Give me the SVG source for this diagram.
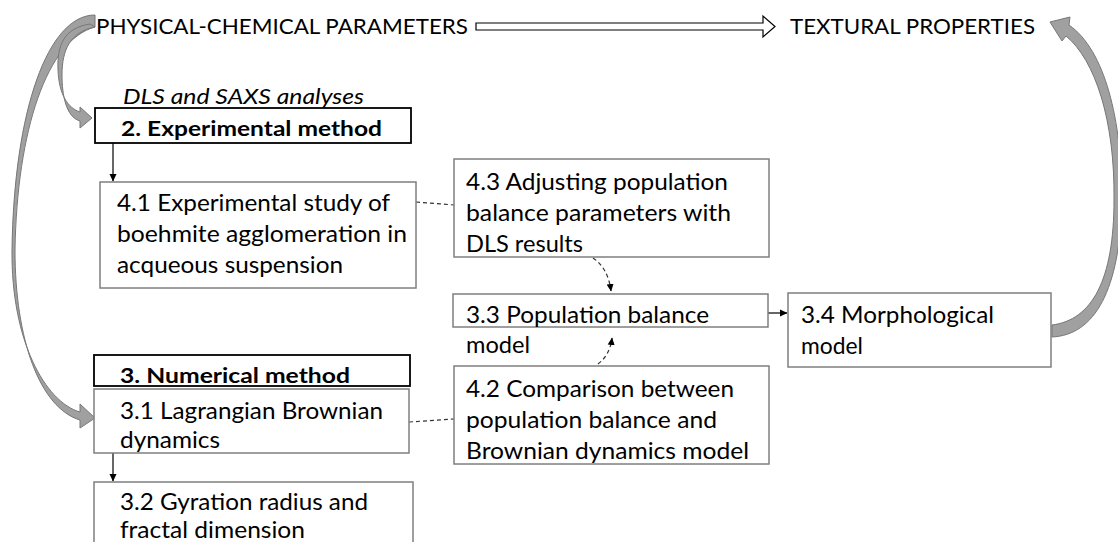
<svg xmlns="http://www.w3.org/2000/svg" width="1118" height="542" viewBox="0 0 1118 542">
<style>
text{font-family:Lato,"Noto Sans","Liberation Sans",sans-serif;fill:#000}
.t{font-size:23px}
.h{font-size:21px}
.b{font-size:21px;font-weight:bold}
.i{font-size:21px;font-style:italic}
.box{fill:#fff;stroke:#7f7f7f;stroke-width:1.5}
.bbox{fill:#fff;stroke:#000;stroke-width:1.8}
.curve{fill:#a0a0a0;stroke:#777;stroke-width:1}
.ln{fill:none;stroke:#000;stroke-width:1.2}
.dash{fill:none;stroke:#333;stroke-width:1.2;stroke-dasharray:4 3}
</style>
<defs>
<marker id="ah" markerWidth="8" markerHeight="8" refX="7" refY="4" orient="auto" markerUnits="userSpaceOnUse">
<path d="M0,0.5 L7.5,4 L0,7.5 Z" fill="#000"/>
</marker>
</defs>

<g id="curves">
<path class="curve" d="M95 15 C48 15 14 110 12 250 C11 340 45 402 80 412 L80 404 L95 418 L80 428 L80 420 C40 408 15 340 15 250 C17 130 47 40 95 27 Z"/>
<path class="curve" d="M90 24 C64 28 57 45 58 70 C59 95 68 108 80 112 L80 107 L92 118 L80 128 L80 121 C66 117 62 95 62 75 C62 50 70 32 95 27 Z"/>
<path class="curve" d="M1052 325 C1092 320 1114 280 1114 200 C1115 120 1095 60 1066 36 L1062 41 L1050 22 L1070 17 L1069 25 C1105 50 1122 120 1122 200 C1120 290 1095 335 1052 337 Z"/>
<path d="M476 23 L763 23 L763 16 L775 26.5 L763 37 L763 30 L476 30 Z" fill="#fff" stroke="#000" stroke-width="1.2"/>
</g>

<g id="title-left"><text class="h" x="96" y="34" textLength="372" lengthAdjust="spacingAndGlyphs">PHYSICAL-CHEMICAL PARAMETERS</text></g>
<g id="title-right"><text class="h" x="790" y="34" textLength="245" lengthAdjust="spacingAndGlyphs">TEXTURAL PROPERTIES</text></g>

<g id="connectors">
<line class="ln" x1="113" y1="143" x2="113" y2="181" marker-end="url(#ah)"/>
<line class="ln" x1="113" y1="453" x2="113" y2="481" marker-end="url(#ah)"/>
<line class="ln" x1="768" y1="313" x2="787" y2="313" marker-end="url(#ah)"/>
<path class="dash" d="M416 202 L454 205"/>
<path class="dash" d="M409 422 L454 419"/>
<path class="dash" d="M593 258 Q608 268 611 291" marker-end="url(#ah)"/>
<path class="dash" d="M598 364 Q610 355 612 338" marker-end="url(#ah)"/>
</g>

<g id="n-dls"><text class="i" x="123" y="104" textLength="241" lengthAdjust="spacingAndGlyphs">DLS and SAXS analyses</text></g>

<g id="n2">
<rect class="bbox" x="95" y="108" width="316" height="35"/>
<text class="b" x="121" y="136" textLength="261" lengthAdjust="spacingAndGlyphs">2. Experimental method</text>
</g>

<g id="n41">
<rect class="box" x="100" y="182" width="316" height="106"/>
<text class="t" x="117" y="211" textLength="273" lengthAdjust="spacingAndGlyphs">4.1 Experimental study of</text>
<text class="t" x="117" y="242" textLength="290" lengthAdjust="spacingAndGlyphs">boehmite agglomeration in</text>
<text class="t" x="117" y="273" textLength="226" lengthAdjust="spacingAndGlyphs">acqueous suspension</text>
</g>

<g id="n43">
<rect class="box" x="454" y="159" width="315" height="98"/>
<text class="t" x="466" y="190" textLength="262" lengthAdjust="spacingAndGlyphs">4.3 Adjusting population</text>
<text class="t" x="466" y="221" textLength="265" lengthAdjust="spacingAndGlyphs">balance parameters with</text>
<text class="t" x="466" y="252" textLength="117" lengthAdjust="spacingAndGlyphs">DLS results</text>
</g>

<g id="n33">
<rect class="box" x="453" y="294" width="315" height="33"/>
<text class="t" x="466" y="323" textLength="243" lengthAdjust="spacingAndGlyphs">3.3 Population balance</text>
<text class="t" x="466" y="353" textLength="64" lengthAdjust="spacingAndGlyphs">model</text>
</g>

<g id="n34">
<rect class="box" x="788" y="293" width="263" height="74"/>
<text class="t" x="801" y="323" textLength="193" lengthAdjust="spacingAndGlyphs">3.4 Morphological</text>
<text class="t" x="801" y="354" textLength="62" lengthAdjust="spacingAndGlyphs">model</text>
</g>

<g id="n3">
<rect class="bbox" x="94" y="355" width="316" height="31"/>
<text class="b" x="120" y="383" textLength="230" lengthAdjust="spacingAndGlyphs">3. Numerical method</text>
</g>

<g id="n31">
<rect class="box" x="94" y="389" width="315" height="64"/>
<text class="t" x="120" y="419" textLength="263" lengthAdjust="spacingAndGlyphs">3.1 Lagrangian Brownian</text>
<text class="t" x="120" y="448" textLength="100" lengthAdjust="spacingAndGlyphs">dynamics</text>
</g>

<g id="n42">
<rect class="box" x="454" y="366" width="315" height="98"/>
<text class="t" x="466" y="397" textLength="268" lengthAdjust="spacingAndGlyphs">4.2 Comparison between</text>
<text class="t" x="466" y="428" textLength="251" lengthAdjust="spacingAndGlyphs">population balance and</text>
<text class="t" x="466" y="459" textLength="283" lengthAdjust="spacingAndGlyphs">Brownian dynamics model</text>
</g>

<g id="n32">
<rect class="box" x="94" y="482" width="319" height="70"/>
<text class="t" x="120" y="510" textLength="248" lengthAdjust="spacingAndGlyphs">3.2 Gyration radius and</text>
<text class="t" x="120" y="538" textLength="185" lengthAdjust="spacingAndGlyphs">fractal dimension</text>
</g>
</svg>
